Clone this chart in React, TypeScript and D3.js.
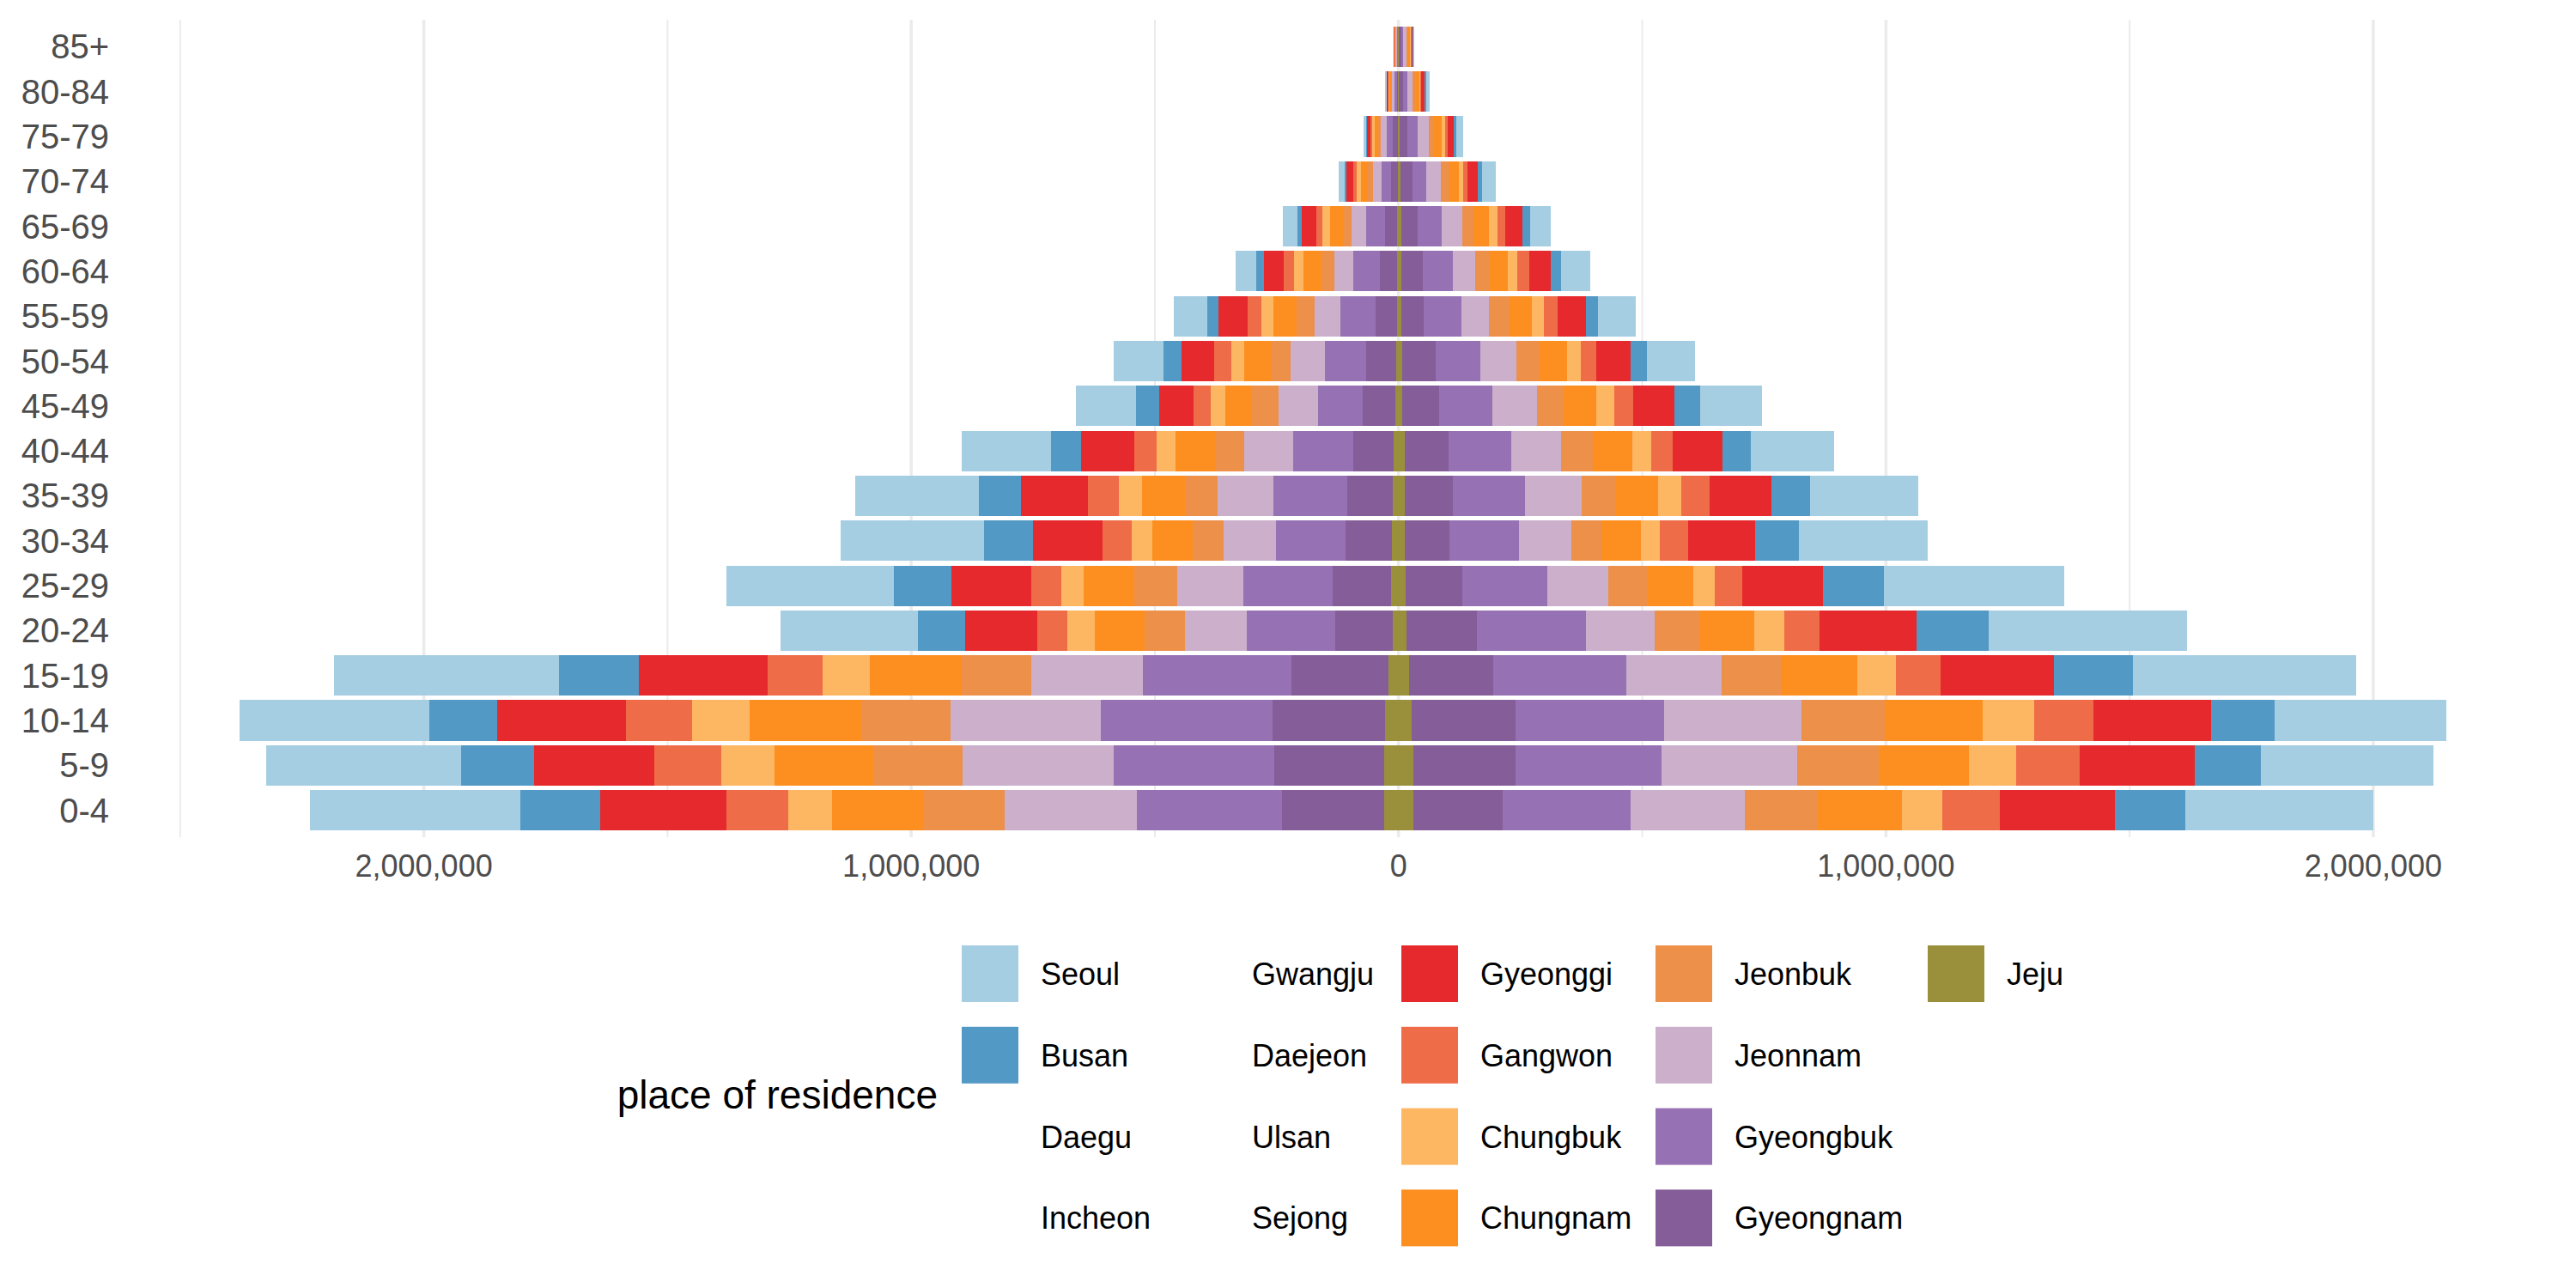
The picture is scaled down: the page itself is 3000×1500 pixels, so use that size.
import * as d3 from 'd3'

// age groups, bottom to top
const AGE_GROUPS = ['0-4', '5-9', '10-14', '15-19', '20-24', '25-29', '30-34', '35-39', '40-44',
  '45-49', '50-54', '55-59', '60-64', '65-69', '70-74', '75-79', '80-84', '85+']

const REGIONS = ['Seoul', 'Busan', 'Daegu', 'Incheon', 'Gwangju', 'Daejeon', 'Ulsan', 'Sejong',
  'Gyeonggi', 'Gangwon', 'Chungbuk', 'Chungnam', 'Jeonbuk', 'Jeonnam', 'Gyeongbuk', 'Gyeongnam', 'Jeju']

// null = no fill (the legend shows an empty key)
const REGION_COLORS = ['#a6cee3', '#5399c6', null, null, null, null, null, null,
  '#e6292c', '#ef6c48', '#fdb662', '#fd8f20', '#ed9049', '#cbafcb', '#9672b4', '#845d99', '#9a903c']

// thousands of people, left half of the pyramid
const seoulLeft = [432, 399, 391, 462, 281, 343, 295, 254, 184, 123.5, 102, 68, 43, 30, 12.3, 5.3, 2.3, 0.7]
const busanLeft = [163, 150, 139, 164, 98, 118, 99, 86, 62, 47, 37, 24, 15, 10, 3.5, 1.8, 0.7, 0.4]
const gyeonggiLeft = [259, 246, 264, 264, 147, 164, 143, 137, 108, 71, 67, 60, 42, 30, 14, 6.5, 3, 0.8]
const gangwonLeft = [127, 138, 136, 112, 63, 62, 61, 64, 47, 34, 34, 28, 21, 12, 8.2, 4.1, 1, 0.6]
const chungbukLeft = [91, 109, 118, 97, 56, 46, 42, 47, 39, 30, 28, 25, 19, 16, 7.6, 5.3, 1.5, 0.6]
const chungnamLeft = [186, 203, 229, 188, 102, 104, 83, 88, 82, 56, 54, 46, 36, 26, 14.7, 6.5, 3, 1.4]
const jeonbukLeft = [168, 184, 183, 143, 83, 88, 63, 67, 58, 53, 40, 37, 28, 18, 10, 5.8, 1.5, 1.2]
const jeonnamLeft = [271, 310, 308, 230, 127, 135, 108, 116, 100, 81, 71, 54, 38, 30, 17.6, 12.3, 5.3, 1.6]
const gyeongbukLeft = [298, 329, 353, 304, 181, 184, 143, 150, 124, 93, 84, 71, 55, 38, 19.4, 12.3, 5.9, 1.6]
const gyeongnamLeft = [210, 226, 230, 199, 118, 119, 95, 94, 83, 67, 62, 44, 35, 25, 14, 10, 2.4, 1.2]
const jejuLeft = [29, 29, 28, 21, 12, 16, 13, 12, 10, 6, 5, 4, 3, 3, 2, 1.5, 0.6, 0.5]

// thousands of people, right half of the pyramid
const seoulRight = [387, 353, 352, 459, 407, 371, 264, 223, 170, 128, 99, 77, 60, 43, 28, 14, 7, 2.5]
const busanRight = [145, 137, 129, 162, 149, 124, 90, 79, 58, 52, 33, 25, 20, 16, 9, 5.3, 3.5, 1]
const gyeonggiRight = [236, 236, 243, 232, 198, 166, 137, 127, 102, 84, 71, 58, 45, 35, 21, 12.3, 7, 2.5]
const gangwonRight = [117, 129, 121, 92, 72, 56, 58, 58, 44, 39, 31, 28, 24, 16, 9, 5.3, 1.8, 1.5]
const chungbukRight = [84, 97, 106, 79, 62, 44, 39, 47, 39, 38, 28, 25, 19, 18, 10, 7, 2.9, 1.5]
const chungnamRight = [172, 186, 200, 154, 113, 94, 80, 89, 82, 67, 57, 47, 37, 31, 19, 14.7, 5.9, 4]
const jeonbukRight = [150, 167, 172, 125, 92, 80, 63, 69, 64, 54, 47, 42, 30, 24, 18, 11.7, 7, 2.5]
const jeonnamRight = [234, 279, 281, 194, 141, 125, 107, 116, 103, 92, 74, 56, 47, 42, 30, 22.9, 10.6, 7]
const gyeongbukRight = [263, 299, 305, 274, 223, 175, 143, 148, 129, 109, 91, 77, 62, 49, 28, 21, 8.8, 5]
const gyeongnamRight = [183, 210, 213, 173, 145, 116, 92, 99, 90, 75, 69, 46, 44, 34, 24, 16.4, 8.8, 4]
const jejuRight = [30, 30, 27, 21, 16, 15, 12, 12, 12, 8, 8, 6, 5, 5, 4, 1.5, 1, 1]

const X_TICKS = [-2000000, -1000000, 0, 1000000, 2000000]
const X_MINOR = [-2500000, -1500000, -500000, 500000, 1500000, 2500000]

const LEFT: Record<string, number[]> = {
  Seoul: seoulLeft, Busan: busanLeft, Gyeonggi: gyeonggiLeft, Gangwon: gangwonLeft,
  Chungbuk: chungbukLeft, Chungnam: chungnamLeft, Jeonbuk: jeonbukLeft, Jeonnam: jeonnamLeft,
  Gyeongbuk: gyeongbukLeft, Gyeongnam: gyeongnamLeft, Jeju: jejuLeft,
}
const RIGHT: Record<string, number[]> = {
  Seoul: seoulRight, Busan: busanRight, Gyeonggi: gyeonggiRight, Gangwon: gangwonRight,
  Chungbuk: chungbukRight, Chungnam: chungnamRight, Jeonbuk: jeonbukRight, Jeonnam: jeonnamRight,
  Gyeongbuk: gyeongbukRight, Gyeongnam: gyeongnamRight, Jeju: jejuRight,
}

const WIDTH = 3000
const HEIGHT = 1500
const PANEL = {left: 150, right: 2977, top: 23, bottom: 975}
const FONT = '"Liberation Sans", Arial, Helvetica, sans-serif'

const buildRows = (series: Record<string, number[]>) =>
  AGE_GROUPS.map((age, i) => {
    const row: any = {age}
    REGIONS.forEach(r => {
      row[r] = series[r] ? series[r][i] * 1000 : 0
    })
    return row
  })

const colorOf = (region: string) => REGION_COLORS[REGIONS.indexOf(region)]

export default function App() {
  // first level ends up outermost, last level (Jeju) sits on the zero line
  const stack = d3.stack<any>().keys([...REGIONS].reverse())
  const leftStack = stack(buildRows(LEFT))
  const rightStack = stack(buildRows(RIGHT))

  const leftMax = d3.max(leftStack[leftStack.length - 1], d => d[1]) as number
  const rightMax = d3.max(rightStack[rightStack.length - 1], d => d[1]) as number
  const pad = (leftMax + rightMax) * 0.05

  const xScale = d3.scaleLinear().domain([-leftMax - pad, rightMax + pad]).range([PANEL.left, PANEL.right])
  const yScale = d3
    .scaleBand()
    .domain([...AGE_GROUPS].reverse())
    .range([PANEL.top, PANEL.bottom])
    .paddingInner(0.1)
    .paddingOuter(0.15)

  const fmt = d3.format(',')

  const bars = (layers: any[], side: number) =>
    layers.map(layer => {
      const color = colorOf(layer.key)
      if (!color) return null
      return layer.map((d: any, i: number) => {
        const a = xScale(side * d[0])
        const b = xScale(side * d[1])
        const w = Math.abs(b - a)
        if (w <= 0) return null
        return (
          <rect
            key={`${side}-${layer.key}-${i}`}
            x={Math.min(a, b)}
            y={yScale(AGE_GROUPS[i])}
            width={w}
            height={yScale.bandwidth()}
            fill={color}
          />
        )
      })
    })

  // legend: 4 rows, filled column by column
  const LEGEND_COLS = [1120, 1366, 1632, 1928, 2245]
  const LEGEND_TOP = 1101
  const ROW_STEP = 94.8
  const legend = REGIONS.map((r, i) => {
    const col = Math.floor(i / 4)
    const row = i % 4
    const x = LEGEND_COLS[col]
    const y = LEGEND_TOP + row * ROW_STEP
    const color = REGION_COLORS[i]
    return (
      <g key={r}>
        {color && <rect x={x} y={y} width={66} height={66} fill={color} />}
        <text x={x + 92} y={y + 46} fontSize={36} fill="#000">
          {r}
        </text>
      </g>
    )
  })

  return (
    <div style={{position: 'absolute', left: 0, top: 0}}>
      <svg width={WIDTH} height={HEIGHT} fontFamily={FONT} style={{display: 'block', background: '#fff'}}>
        <g>
          {X_MINOR.filter(v => xScale(v) <= PANEL.right).map(v => (
            <line key={`m${v}`} x1={xScale(v)} x2={xScale(v)} y1={PANEL.top} y2={PANEL.bottom} stroke="#ebebeb" strokeWidth={2} />
          ))}
          {X_TICKS.map(v => (
            <line key={`M${v}`} x1={xScale(v)} x2={xScale(v)} y1={PANEL.top} y2={PANEL.bottom} stroke="#ebebeb" strokeWidth={3.5} />
          ))}
        </g>
        <g shapeRendering="crispEdges">
          {bars(leftStack, -1)}
          {bars(rightStack, 1)}
        </g>
        <g>
          {AGE_GROUPS.map(a => (
            <text
              key={a}
              x={127}
              y={(yScale(a) as number) + yScale.bandwidth() / 2}
              dy="0.35em"
              textAnchor="end"
              fontSize={40}
              fill="#4d4d4d">
              {a}
            </text>
          ))}
          {X_TICKS.map(v => (
            <text key={`t${v}`} x={xScale(v)} y={1021} textAnchor="middle" fontSize={36} fill="#4d4d4d">
              {fmt(Math.abs(v))}
            </text>
          ))}
        </g>
        <text x={1092} y={1291} textAnchor="end" fontSize={46} fill="#000">
          place of residence
        </text>
        {legend}
      </svg>
    </div>
  )
}
